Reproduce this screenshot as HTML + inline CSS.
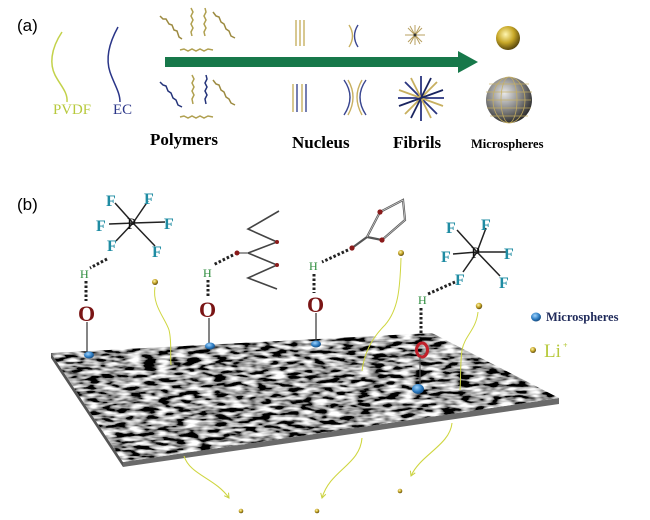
<!DOCTYPE html>
<html><head><meta charset="utf-8"><style>
html,body{margin:0;padding:0;background:#fff;width:650px;height:520px;overflow:hidden}
svg{display:block}
.s{font-family:"Liberation Serif",serif;font-weight:bold}
.f{font-family:"Liberation Serif",serif;font-weight:bold;fill:#1f8ca3;font-size:16px}
</style></head><body>
<svg width="650" height="520" viewBox="0 0 650 520" xmlns="http://www.w3.org/2000/svg">
<defs>
<filter id="tex" x="0" y="0" width="100%" height="100%">
<feTurbulence type="fractalNoise" baseFrequency="0.07 0.24" numOctaves="2" seed="4" result="n"/>
<feColorMatrix in="n" type="matrix" values="3 0 0 0 -1.15  3 0 0 0 -1.15  3 0 0 0 -1.15  0 0 0 0 1" result="g"/>
<feComposite in="g" in2="SourceGraphic" operator="in"/>
</filter>
<radialGradient id="gold" cx="0.4" cy="0.35" r="0.7"><stop offset="0" stop-color="#fff6b0"/><stop offset="0.5" stop-color="#c8a828"/><stop offset="1" stop-color="#4a3a08"/></radialGradient>
<radialGradient id="blue" cx="0.4" cy="0.35" r="0.7"><stop offset="0" stop-color="#9fd4ff"/><stop offset="0.6" stop-color="#2a7ac0"/><stop offset="1" stop-color="#124070"/></radialGradient>
<radialGradient id="ms" cx="0.4" cy="0.35" r="0.7"><stop offset="0" stop-color="#e8e8e8"/><stop offset="0.6" stop-color="#777"/><stop offset="1" stop-color="#222"/></radialGradient>
<marker id="ah" viewBox="0 0 10 10" refX="8" refY="5" markerWidth="6" markerHeight="6" orient="auto"><path d="M1 1 L8 5 L1 9" fill="none" stroke="#c8d040" stroke-width="1.5"/></marker>
</defs>

<!-- (a) -->
<text x="17" y="31" font-family="Liberation Sans,sans-serif" font-size="17">(a)</text>
<path d="M62 32 C50 50 50 65 55 75 C60 85 68 92 67 102" fill="none" stroke="#c3d24a" stroke-width="1.5"/>
<text x="53" y="114" class="s" style="font-weight:normal" font-size="15" fill="#b7c93c" textLength="38" lengthAdjust="spacingAndGlyphs">PVDF</text>
<path d="M118 27 C108 45 106 60 110 72 C114 84 120 92 120 102" fill="none" stroke="#2a3588" stroke-width="1.5"/>
<text x="113" y="114" class="s" style="font-weight:normal" font-size="15" fill="#2a3588" textLength="19" lengthAdjust="spacingAndGlyphs">EC</text>
<!-- polymers -->
<g fill="none" stroke-width="1.5">
<path d="M160 16 l3 3 3 0 3 5 3 1 2 5 3 1 2 6 3 2" stroke="#9c8a40"/>
<path d="M191 8 l2 4 -2 4 2 4 -2 4 2 4 -2 4 1 4" stroke="#b0a050"/>
<path d="M205 8 l1 4 -2 4 2 4 -2 4 2 4 -2 4 1 4" stroke="#b0a050"/>
<path d="M213 12 l3 4 3 1 2 5 3 2 2 5 3 2 2 5 4 2" stroke="#9c8a40"/>
<path d="M180 50 l4 -1 4 2 4 -2 4 2 4 -2 4 2 4 -2 5 1" stroke="#b0a050"/>
<path d="M160 82 l3 3 3 1 2 5 3 2 2 5 3 2 2 5 4 2" stroke="#25347a"/>
<path d="M192 75 l2 4 -2 4 2 4 -2 4 2 4 -2 4 1 5" stroke="#b0a050"/>
<path d="M206 75 l1 4 -2 4 2 4 -2 4 2 4 -2 4 1 5" stroke="#25347a"/>
<path d="M213 80 l3 4 3 1 2 5 3 2 2 5 3 2 2 4 4 2" stroke="#9c8a40"/>
<path d="M180 117 l4 -1 4 2 4 -2 4 2 4 -2 4 2 4 -2 5 1" stroke="#b0a050"/>
</g>
<text x="150" y="145" class="s" font-size="17">Polymers</text>
<!-- arrow -->
<path d="M165 57 H458 V51 L478 62 L458 73 V67 H165 Z" fill="#17784a"/>
<!-- nucleus -->
<g stroke-width="1.4" fill="none">
<path d="M296 20 V46 M300 20 V46" stroke="#c8b060"/><path d="M304 20 V46" stroke="#c8b060"/>
<path d="M349 25 Q356 36 349 47" stroke="#c8b060"/><path d="M358 25 Q351 36 358 47" stroke="#3a4690"/>
<path d="M293 84 V112 M302 84 V112" stroke="#c8b060"/><path d="M297 84 V112 M306 84 V112" stroke="#3a4690"/>
<path d="M344 80 Q356 97 344 115" stroke="#3a4690"/><path d="M348 80 Q358 97 348 115" stroke="#c8b060"/>
<path d="M366 80 Q354 97 366 115" stroke="#3a4690"/><path d="M362 80 Q352 97 362 115" stroke="#c8b060"/>
</g>
<text x="292" y="148" class="s" font-size="17">Nucleus</text>
<!-- fibrils -->
<g stroke-width="1" stroke="#b8a060">
<path d="M405 35 H425 M415 25 V45 M408 28 L422 42 M422 28 L408 42 M410 26 L420 44 M420 26 L410 44"/>
</g>
<circle cx="415" cy="35" r="1.5" fill="#333"/>
<g stroke-width="1.8">
<path d="M398 98 H444 M421 76 V121 M405 82 L437 114" stroke="#2a3580"/>
<path d="M437 82 L405 114 M411 78 L431 118 M399 90 L443 106" stroke="#c8b060"/>
<path d="M431 78 L411 118 M399 106 L443 90" stroke="#1a2560"/>
</g>
<text x="393" y="148" class="s" font-size="17">Fibrils</text>
<!-- spheres -->
<circle cx="508" cy="38" r="12" fill="url(#gold)"/>
<circle cx="509" cy="100" r="23" fill="url(#ms)"/>
<g fill="none" stroke="#c8b060" stroke-width="0.8" opacity="0.9">
<ellipse cx="509" cy="100" rx="8" ry="23"/><ellipse cx="509" cy="100" rx="16" ry="23"/>
<path d="M486 92 H532 M487 100 H531 M487 108 H531 M489 84 H529 M490 116 H528"/>
</g>
<text x="471" y="148" class="s" font-size="12.5">Microspheres</text>

<!-- (b) -->
<text x="17" y="210" font-family="Liberation Sans,sans-serif" font-size="17">(b)</text>

<!-- plate -->
<path d="M51 353 L123 462 L123 467 L51 358 Z" fill="#555"/>
<path d="M123 462 L559 398 L559 404 L123 467 Z" fill="#6a6a6a"/>
<path d="M51 353 L432 333 L559 398 L123 462 Z" fill="#444" filter="url(#tex)"/>

<!-- left PF6 -->
<g stroke="#222" stroke-width="1.5">
<path d="M133 223 L115 203 M133 223 L148 201 M133 223 L109 224 M133 223 L165 222 M133 223 L116 241 M133 223 L155 246"/>
</g>
<text x="127" y="229" font-family="Liberation Serif,serif" font-size="16" fill="#111">P</text>
<text x="106" y="206" class="f">F</text><text x="144" y="204" class="f">F</text>
<text x="96" y="231" class="f">F</text><text x="164" y="229" class="f">F</text>
<text x="107" y="251" class="f">F</text><text x="152" y="257" class="f">F</text>
<path d="M107 259 L90 268" stroke="#222" stroke-width="3" stroke-dasharray="2.5 2"/>
<text x="80" y="278" class="s" style="font-weight:normal" font-size="12" fill="#2a8a3a">H</text>
<path d="M86 281 V301" stroke="#222" stroke-width="3" stroke-dasharray="2.5 2"/>
<text x="78" y="321" class="s" font-size="22" fill="#7a1515">O</text>
<path d="M87 322 V352" stroke="#333" stroke-width="1.2"/>
<ellipse cx="89" cy="355" rx="5" ry="3.5" fill="url(#blue)"/>

<!-- Li left -->
<circle cx="155" cy="282" r="3" fill="url(#gold)"/>
<path d="M155 287 C152 305 165 318 169 330 C172 342 170 355 171 365" fill="none" stroke="#cfd640" stroke-width="1"/>

<!-- second -->
<path d="M279 211 L248 229 L277 242 L248 253 L277 265 L248 278 L277 289" fill="none" stroke="#444" stroke-width="1.6"/>
<circle cx="277" cy="242" r="2" fill="#8a1a1a"/><circle cx="277" cy="265" r="2" fill="#8a1a1a"/>
<path d="M248 253 L237 253" stroke="#999" stroke-width="2"/>
<circle cx="237" cy="253" r="2.5" fill="#8a1a1a"/>
<path d="M233 255 L213 265" stroke="#222" stroke-width="3" stroke-dasharray="2.5 2"/>
<text x="203" y="277" class="s" style="font-weight:normal" font-size="12" fill="#2a8a3a">H</text>
<path d="M208 280 V298" stroke="#222" stroke-width="3" stroke-dasharray="2.5 2"/>
<text x="199" y="317" class="s" font-size="22" fill="#7a1515">O</text>
<path d="M209 318 V343" stroke="#333" stroke-width="1.2"/>
<ellipse cx="210" cy="346" rx="5" ry="3.5" fill="url(#blue)"/>

<!-- third -->
<g fill="none" stroke="#555" stroke-width="2.2">
<path d="M352 248 L367 237 L380 212 L403 200 L405 220 L382 240 L367 237"/>
</g>
<g fill="none" stroke="#ccc" stroke-width="0.8"><path d="M367 237 L380 212 L403 200 L405 220 L382 240"/></g>
<circle cx="352" cy="248" r="2.6" fill="#8a1a1a"/><circle cx="380" cy="212" r="2.6" fill="#8a1a1a"/><circle cx="382" cy="240" r="2.6" fill="#8a1a1a"/>
<path d="M348 250 L322 262" stroke="#222" stroke-width="3" stroke-dasharray="2.5 2"/>
<text x="309" y="270" class="s" style="font-weight:normal" font-size="12" fill="#2a8a3a">H</text>
<path d="M314 274 V293" stroke="#222" stroke-width="3" stroke-dasharray="2.5 2"/>
<text x="307" y="312" class="s" font-size="22" fill="#7a1515">O</text>
<path d="M316 313 V341" stroke="#333" stroke-width="1.2"/>
<ellipse cx="316" cy="344" rx="5" ry="3.5" fill="url(#blue)"/>
<circle cx="401" cy="253" r="3" fill="url(#gold)"/>
<path d="M401 258 C400 290 398 310 385 325 C370 340 364 355 362 371" fill="none" stroke="#cfd640" stroke-width="1"/>

<!-- right PF6 -->
<g stroke="#222" stroke-width="1.5">
<path d="M477 252 L457 230 M477 252 L486 228 M477 252 L453 254 M477 252 L506 252 M477 252 L463 272 M477 252 L500 276"/>
</g>
<text x="471" y="258" font-family="Liberation Serif,serif" font-size="16" fill="#111">P</text>
<text x="446" y="233" class="f">F</text><text x="481" y="230" class="f">F</text>
<text x="441" y="262" class="f">F</text><text x="504" y="259" class="f">F</text>
<text x="455" y="285" class="f">F</text><text x="499" y="288" class="f">F</text>
<path d="M455 282 L428 294" stroke="#222" stroke-width="3" stroke-dasharray="2.5 2"/>
<text x="418" y="304" class="s" style="font-weight:normal" font-size="12" fill="#2a8a3a">H</text>
<path d="M421 308 V333" stroke="#222" stroke-width="3" stroke-dasharray="2.5 2"/>
<ellipse cx="422" cy="350" rx="5.5" ry="7" fill="none" stroke="#c0202a" stroke-width="3"/>
<path d="M420 357 V384" stroke="#555" stroke-width="1.2"/>
<ellipse cx="418" cy="389" rx="6" ry="5" fill="url(#blue)"/>
<circle cx="479" cy="306" r="3.2" fill="url(#gold)"/>
<path d="M478 312 C476 330 465 335 462 350 C460 365 461 378 460 390" fill="none" stroke="#cfd640" stroke-width="1"/>

<!-- legend -->
<ellipse cx="536" cy="317" rx="5" ry="4.5" fill="url(#blue)"/>
<text x="546" y="321" class="s" font-size="12.5" fill="#1f2a5a">Microspheres</text>
<circle cx="533" cy="350" r="3" fill="url(#gold)"/>
<text x="544" y="357" class="s" style="font-weight:normal" font-size="19" fill="#b7c93c">Li</text>
<text x="563" y="348" class="s" font-size="8" fill="#b7c93c">+</text>

<!-- bottom arrows -->
<g fill="none" stroke="#cfd640" stroke-width="1.1" marker-end="url(#ah)">
<path d="M184 456 C190 475 215 478 229 498"/>
<path d="M362 438 C360 465 330 470 322 498"/>
<path d="M452 423 C450 445 420 455 411 476"/>
</g>
<circle cx="241" cy="511" r="2.3" fill="url(#gold)"/>
<circle cx="317" cy="511" r="2.3" fill="url(#gold)"/>
<circle cx="400" cy="491" r="2.3" fill="url(#gold)"/>
</svg>
</body></html>
